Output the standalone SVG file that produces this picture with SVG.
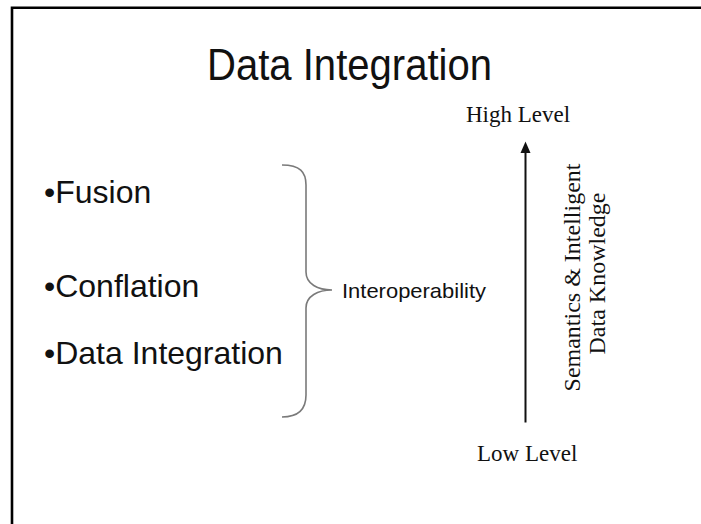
<svg xmlns="http://www.w3.org/2000/svg" width="701" height="524" viewBox="0 0 701 524">
  <style>
    .sans { font-family: "Liberation Sans", Arial, sans-serif; fill: #111; }
    .serif { font-family: "Liberation Serif", "Times New Roman", serif; fill: #111; }
    .title { font-size: 45px; }
    .item { font-size: 32px; }
    .label { font-size: 21px; }
    .level { font-size: 23px; }
    .axis { font-size: 24px; }
  </style>

  <rect width="701" height="524" fill="#fff"/>
  <!-- slide frame: only top and left edges are visible -->
  <path d="M12,524 V7.8 H701" fill="none" stroke="#000" stroke-width="2.6"/>

  <g id="title">
    <text class="sans title" x="207" y="80" textLength="285" lengthAdjust="spacingAndGlyphs">Data Integration</text>
  </g>

  <g id="item-fusion">
    <text class="sans item" x="44" y="203">•Fusion</text>
  </g>
  <g id="item-conflation">
    <text class="sans item" x="44" y="297">•Conflation</text>
  </g>
  <g id="item-data-integration">
    <text class="sans item" x="44" y="364">•Data Integration</text>
  </g>

  <g id="interoperability">
    <text class="sans label" x="342" y="298" textLength="144" lengthAdjust="spacingAndGlyphs">Interoperability</text>
  </g>

  <g id="high-level">
    <text class="serif level" x="466" y="122">High Level</text>
  </g>
  <g id="low-level">
    <text class="serif level" x="477" y="461">Low Level</text>
  </g>

  <g id="axis-label">
    <text class="serif axis" transform="translate(580,277.5) rotate(-90)" text-anchor="middle">Semantics &amp; Intelligent</text>
    <text class="serif axis" transform="translate(605,273.5) rotate(-90)" text-anchor="middle">Data Knowledge</text>
  </g>

  <g id="connectors">
    <!-- curly brace grouping the three items -->
    <path d="M282,165 C300,165 306,172 306,185 V272 C306,284 318,290 332,290 C318,290 306,296 306,308 V395 C306,408 300,417 282,417" fill="none" stroke="#7a7a7a" stroke-width="1.6"/>
    <!-- vertical level arrow -->
    <line x1="525.5" y1="422.5" x2="525.5" y2="152" stroke="#111" stroke-width="2"/>
    <path d="M525.5,141.5 L530.5,153 L520.5,153 Z" fill="#111"/>
  </g>
</svg>
